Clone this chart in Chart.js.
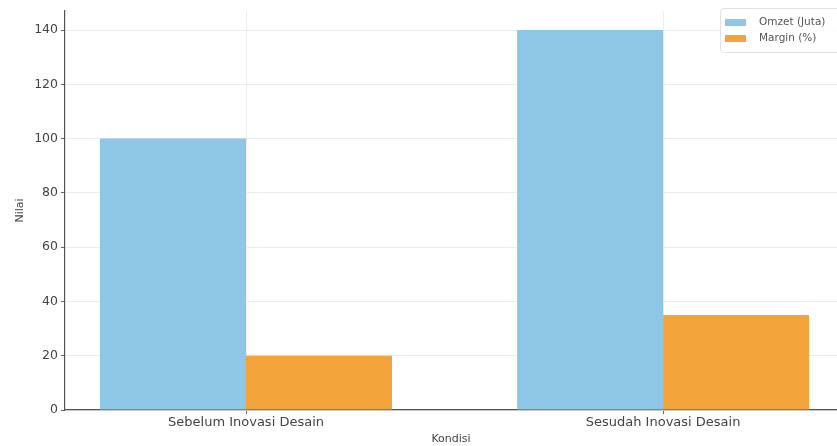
<!DOCTYPE html>
<html>
<head>
<meta charset="utf-8">
<script src="https://cdn.jsdelivr.net/npm/chart.js@4.4.1/dist/chart.umd.min.js"></script>
<style>
  html, body { margin: 0; padding: 0; background: #fff; overflow: hidden; }
  #wrap { width: 837px; height: 446px; }
</style>
</head>
<body>
<div id="wrap"><canvas id="grafico"></canvas></div>
<script>
// data
const kondisi = ['Sebelum Inovasi Desain', 'Sesudah Inovasi Desain'];
const posisi = [0, 1];
const omzet = [100, 140];
const margin = [20, 35];
const yTicks = [0, 20, 40, 60, 80, 100, 120, 140];

const biru = '#8ec6e6';
const oranye = '#f2a33a';

// legenda kecil di pojok kanan atas (seperti matplotlib)
const legendaDalam = {
  id: 'legendaDalam',
  afterDraw(chart) {
    const ctx = chart.ctx;
    const area = chart.chartArea;
    const x = area.right - 117, y = area.top - 3;
    ctx.save();
    ctx.fillStyle = 'rgba(255,255,255,0.85)';
    ctx.strokeStyle = '#e2e2e2';
    ctx.lineWidth = 1;
    ctx.beginPath();
    ctx.roundRect(x + 0.5, y + 0.5, 125, 44, 3);
    ctx.fill();
    ctx.stroke();
    ctx.font = '10.5px "DejaVu Sans"';
    ctx.textBaseline = 'middle';
    chart.data.datasets.forEach((ds, i) => {
      const yy = y + 14 + i * 16;
      ctx.fillStyle = ds.backgroundColor;
      ctx.fillRect(x + 5, yy - 3, 21, 7);
      ctx.fillStyle = '#555';
      ctx.fillText(ds.label, x + 39, yy);
    });
    ctx.restore();
  }
};

const ctx = document.getElementById('grafico').getContext('2d');
new Chart(ctx, {
  type: 'bar',
  data: {
    datasets: [
      { label: 'Omzet (Juta)', data: posisi.map((p, i) => ({ x: p, y: omzet[i] })), backgroundColor: biru },
      { label: 'Margin (%)', data: posisi.map((p, i) => ({ x: p, y: margin[i] })), backgroundColor: oranye }
    ]
  },
  options: {
    responsive: true,
    maintainAspectRatio: false,
    animation: false,
    categoryPercentage: 0.7,
    barPercentage: 1.0,
    layout: { padding: { top: 11, right: 0, left: 0, bottom: 0 } },
    plugins: {
      legend: { display: false },
      tooltip: { enabled: false }
    },
    scales: {
      x: {
        type: 'linear',
        offset: false,
        min: -0.434,
        max: 1.417,
        afterBuildTicks: s => { s.ticks = posisi.map(v => ({ value: v })); },
        afterFit: s => { s.height = 36; },
        ticks: {
          callback: v => kondisi[posisi.indexOf(v)] || '',
          color: '#444',
          font: { family: 'DejaVu Sans', size: 13 },
          padding: 1,
          maxRotation: 0,
          autoSkip: false
        },
        grid: { offset: false, color: '#ececec', tickColor: '#666', tickLength: 4 },
        border: { color: '#555', width: 1.2 },
        title: {
          display: true,
          text: 'Kondisi',
          color: '#444',
          font: { family: 'DejaVu Sans', size: 11 },
          padding: { top: 0, bottom: 0 }
        }
      },
      y: {
        min: 0,
        max: 147,
        afterBuildTicks: s => { s.ticks = yTicks.map(v => ({ value: v })); },
        afterFit: s => { s.width = 65; },
        ticks: {
          color: '#444',
          font: { family: 'DejaVu Sans', size: 12.5 },
          padding: 3
        },
        grid: { color: '#ececec', tickColor: '#666', tickLength: 4 },
        border: { color: '#555', width: 1.2 },
        title: {
          display: true,
          text: 'Nilai',
          color: '#444',
          font: { family: 'DejaVu Sans', size: 11 },
          padding: { top: 14, bottom: 0 }
        }
      }
    }
  },
  plugins: [legendaDalam]
});
</script>
</body>
</html>
